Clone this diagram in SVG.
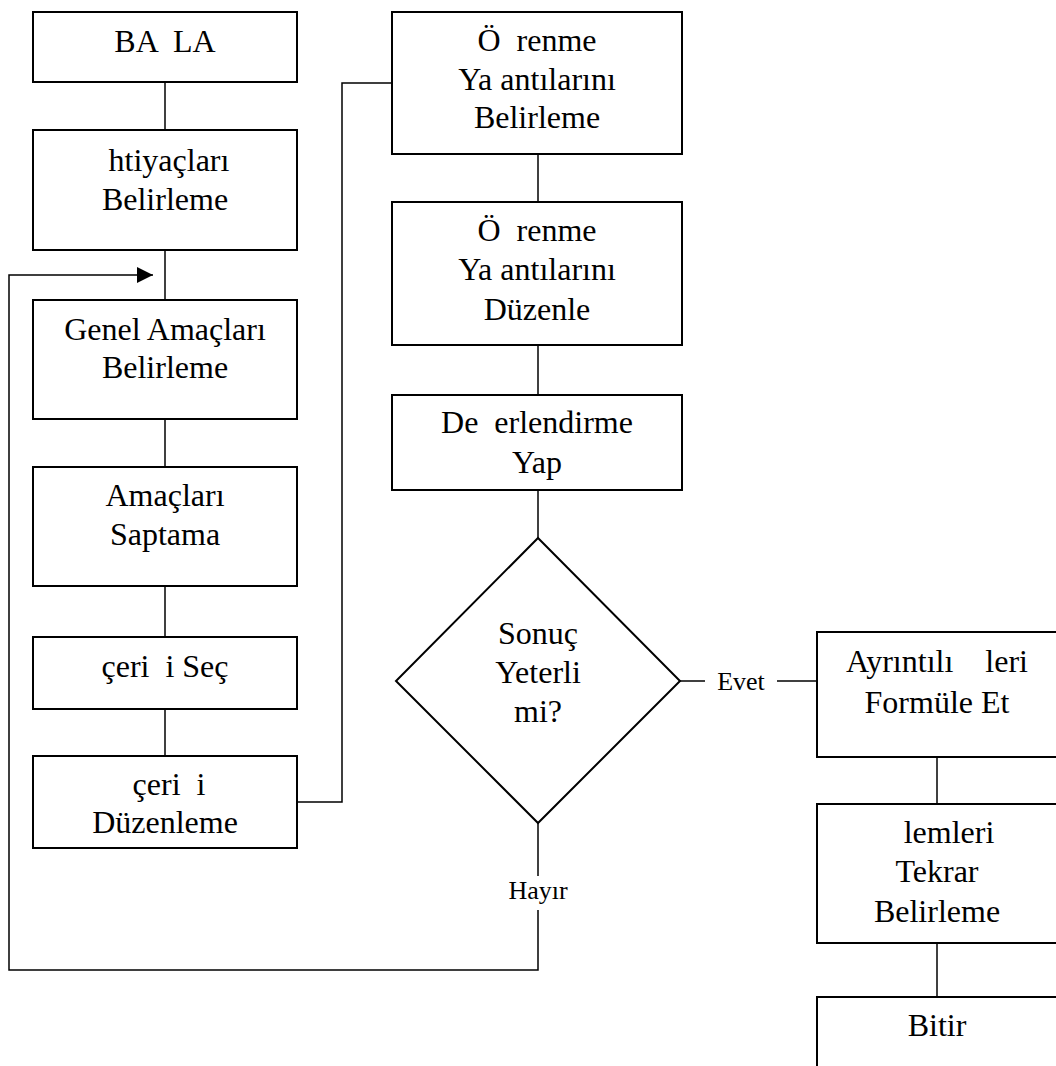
<svg xmlns="http://www.w3.org/2000/svg" width="1056" height="1066" viewBox="0 0 1056 1066">
  <style>
    .box { fill: #ffffff; stroke: #000000; stroke-width: 2; }
    .line { fill: none; stroke: #000000; stroke-width: 1.5; }
    .t { font-family: "Liberation Serif", "Times New Roman", serif; font-size: 32px; fill: #000000; text-anchor: middle; white-space: pre; }
    .lbl { font-family: "Liberation Serif", "Times New Roman", serif; font-size: 26px; fill: #000000; text-anchor: middle; white-space: pre; }
  </style>
  <defs>
    <marker id="arrow" viewBox="0 0 16 16" refX="16" refY="8" markerWidth="16" markerHeight="16" markerUnits="userSpaceOnUse" orient="auto">
      <path d="M0,0 L16,8 L0,16 Z" fill="#000000"/>
    </marker>
  </defs>
  <rect width="1056" height="1066" fill="#ffffff"/>

  <!-- connectors -->
  <g id="connectors">
    <line class="line" x1="165" y1="82" x2="165" y2="130"/>
    <line class="line" x1="165" y1="250" x2="165" y2="300"/>
    <line class="line" x1="165" y1="419" x2="165" y2="467"/>
    <line class="line" x1="165" y1="586" x2="165" y2="637"/>
    <line class="line" x1="165" y1="709" x2="165" y2="756"/>
    <polyline class="line" points="297,802 342,802 342,83 392,83"/>
    <line class="line" x1="538" y1="154" x2="538" y2="202"/>
    <line class="line" x1="538" y1="345" x2="538" y2="395"/>
    <line class="line" x1="538" y1="490" x2="538" y2="538"/>
    <!-- yes branch -->
    <line class="line" x1="680" y1="681" x2="705" y2="681"/>
    <line class="line" x1="777" y1="681" x2="817" y2="681"/>
    <text class="lbl" x="741" y="690">Evet</text>
    <line class="line" x1="937" y1="757" x2="937" y2="804"/>
    <line class="line" x1="937" y1="943" x2="937" y2="997"/>
    <!-- no branch, loops back above the goals step -->
    <line class="line" x1="538" y1="823" x2="538" y2="876"/>
    <text class="lbl" x="538" y="899">Hayır</text>
    <polyline class="line" points="538,910 538,970 9,970 9,275 153,275" marker-end="url(#arrow)"/>
  </g>

  <!-- left column -->
  <g id="basla">
    <rect class="box" x="33" y="12" width="264" height="70"/>
    <text class="t" x="165" y="52">BA  LA</text>
  </g>
  <g id="ihtiyaclari-belirleme">
    <rect class="box" x="33" y="130" width="264" height="120"/>
    <text class="t" x="165" y="171"> htiyaçları</text>
    <text class="t" x="165" y="210">Belirleme</text>
  </g>
  <g id="genel-amaclari">
    <rect class="box" x="33" y="300" width="264" height="119"/>
    <text class="t" x="165" y="340">Genel Amaçları</text>
    <text class="t" x="165" y="378">Belirleme</text>
  </g>
  <g id="amaclari-saptama">
    <rect class="box" x="33" y="467" width="264" height="119"/>
    <text class="t" x="165" y="506">Amaçları</text>
    <text class="t" x="165" y="545">Saptama</text>
  </g>
  <g id="icerigi-sec">
    <rect class="box" x="33" y="637" width="264" height="72"/>
    <text class="t" x="165" y="677">çeri  i Seç</text>
  </g>
  <g id="icerigi-duzenleme">
    <rect class="box" x="33" y="756" width="264" height="92"/>
    <text class="t" x="165" y="795"> çeri  i</text>
    <text class="t" x="165" y="833">Düzenleme</text>
  </g>

  <!-- middle column -->
  <g id="ogrenme-belirleme">
    <rect class="box" x="392" y="12" width="290" height="142"/>
    <text class="t" x="537" y="51">Ö  renme</text>
    <text class="t" x="537" y="90">Ya antılarını</text>
    <text class="t" x="537" y="128">Belirleme</text>
  </g>
  <g id="ogrenme-duzenle">
    <rect class="box" x="392" y="202" width="290" height="143"/>
    <text class="t" x="537" y="241">Ö  renme</text>
    <text class="t" x="537" y="280">Ya antılarını</text>
    <text class="t" x="537" y="320">Düzenle</text>
  </g>
  <g id="degerlendirme">
    <rect class="box" x="392" y="395" width="290" height="95"/>
    <text class="t" x="537" y="433">De  erlendirme</text>
    <text class="t" x="537" y="473">Yap</text>
  </g>
  <g id="sonuc-yeterli">
    <polygon class="box" points="538,538 680,681 538,823 396,681"/>
    <text class="t" x="538" y="644">Sonuç</text>
    <text class="t" x="538" y="683">Yeterli</text>
    <text class="t" x="538" y="722">mi?</text>
  </g>

  <!-- right column -->
  <g id="ayrintili-isleri">
    <rect class="box" x="817" y="632" width="241" height="125"/>
    <text class="t" x="937" y="672">Ayrıntılı    leri</text>
    <text class="t" x="937" y="713">Formüle Et</text>
  </g>
  <g id="islemleri-tekrar">
    <rect class="box" x="817" y="804" width="241" height="139"/>
    <text class="t" x="937" y="843">   lemleri</text>
    <text class="t" x="937" y="882">Tekrar</text>
    <text class="t" x="937" y="922">Belirleme</text>
  </g>
  <g id="bitir">
    <rect class="box" x="817" y="997" width="241" height="80"/>
    <text class="t" x="937" y="1036">Bitir</text>
  </g>
</svg>
